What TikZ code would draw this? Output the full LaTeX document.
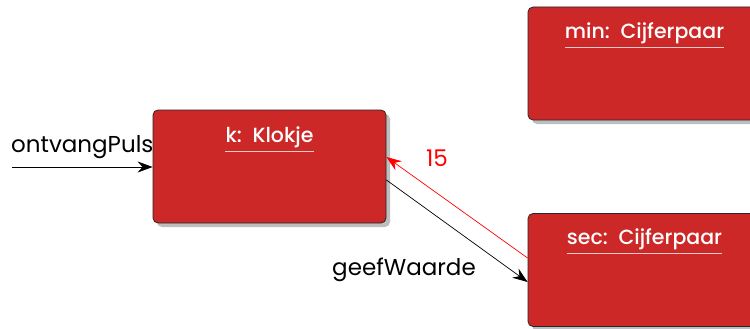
\documentclass[tikz,border=0pt]{standalone}
\usepackage{fontspec}
\setmainfont{Poppins}
\newfontfamily\titlefont{Poppins Medium}
\usetikzlibrary{arrows.meta,shadows}
\definecolor{objred}{RGB}{204,40,40}
\definecolor{shadowgrey}{RGB}{190,190,190}
\tikzset{
  objbox/.style={draw=black!85, line width=0.8pt, fill=objred, rounded corners=5pt,
    minimum width=233pt, minimum height=113pt, inner sep=0pt,
    drop shadow={shadow xshift=4pt, shadow yshift=-4pt, fill=shadowgrey, opacity=1}},
  objtitle/.style={text=white, font=\titlefont\fontsize{20.5}{24}\selectfont, inner sep=0pt},
  titleline/.style={draw=white, opacity=0.75, line width=1.2pt},
  msg/.style={-{Stealth[length=15pt,width=11pt,inset=5pt]}, line width=0.7pt},
  msglabel/.style={font=\fontsize{23}{27}\selectfont, inner sep=0pt}
}
\begin{document}
\begin{tikzpicture}[x=1pt,y=-1pt]
  \useasboundingbox (0,0) rectangle (750,329);
  % objects
  \node[objbox] (k) at (269.5,166.5) {};
  \node[objbox] (min) at (644.5,63.5) {};
  \node[objbox] (sec) at (644.5,270) {};
  % object names, underlined
  \node[objtitle] (kt) at (269.5,137) {k:\ \ Klokje};
  \node[objtitle] (mint) at (644.5,33) {min:\ \ Cijferpaar};
  \node[objtitle] (sect) at (644.5,239) {sec:\ \ Cijferpaar};
  \draw[titleline] ([yshift=-14.5pt]kt.west) -- ([yshift=-14.5pt]kt.east);
  \draw[titleline] ([yshift=-14.5pt]mint.west) -- ([yshift=-14.5pt]mint.east);
  \draw[titleline] ([yshift=-14.5pt]sect.west) -- ([yshift=-14.5pt]sect.east);
  % messages
  \coordinate (start) at (12,167);
  \draw[msg] (start) -- (k.west |- start);
  \node[msglabel, anchor=west] (puls) at (11,147) {ontvangPuls};
  \draw[msg] ([yshift=-13.5pt]k.east) -- ([yshift=-12pt]sec.west);
  \node[msglabel, anchor=east] (geef) at (476,270) {geefWaarde};
  \draw[msg, red] ([yshift=12pt]sec.west) -- ([yshift=9.5pt]k.east);
  \node[msglabel, text=red] (ret) at (437,158) {15};
\end{tikzpicture}
\end{document}
